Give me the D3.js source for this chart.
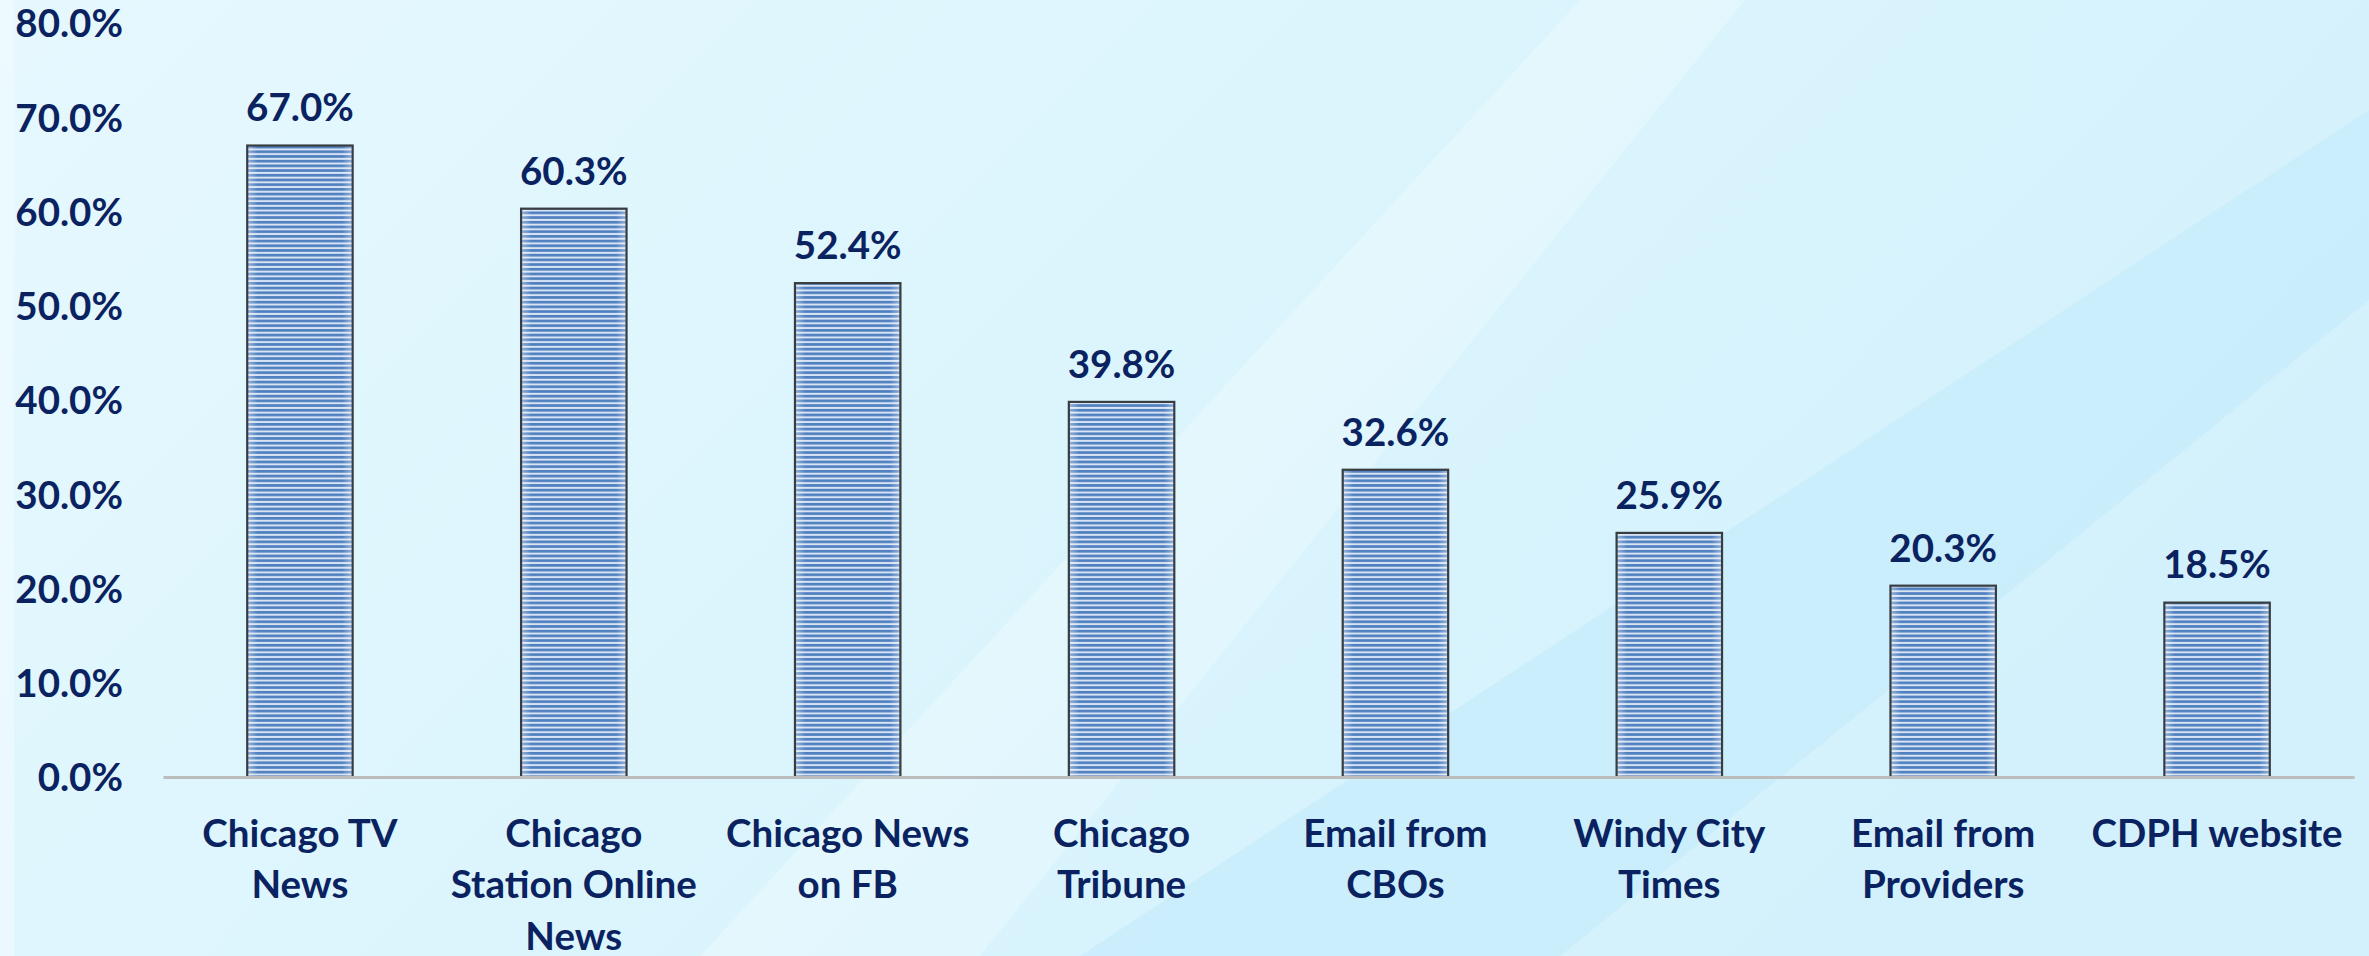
<!DOCTYPE html>
<html>
<head>
<meta charset="utf-8">
<script src="https://cdn.jsdelivr.net/npm/d3@7"></script>
<style>
  html, body { margin: 0; padding: 0; overflow: hidden; }
  #chart text { font-family: Lato, "Open Sans", sans-serif; font-weight: bold; fill: #0a2360; }
</style>
</head>
<body>
<div id="chart"></div>
<script>
// data
const categories = [
  "Chicago TV News",
  "Chicago Station Online News",
  "Chicago News on FB",
  "Chicago Tribune",
  "Email from CBOs",
  "Windy City Times",
  "Email from Providers",
  "CDPH website",
];
const labelLines = [
  ["Chicago TV", "News"],
  ["Chicago", "Station Online", "News"],
  ["Chicago News", "on FB"],
  ["Chicago", "Tribune"],
  ["Email from", "CBOs"],
  ["Windy City", "Times"],
  ["Email from", "Providers"],
  ["CDPH website"],
];
const values = [67.0, 60.3, 52.4, 39.8, 32.6, 25.9, 20.3, 18.5];
const yTicks = [0, 10, 20, 30, 40, 50, 60, 70, 80];

const width = 2369;
const height = 956;
const fontSize = "38.5px";

const svg = d3.select("#chart")
  .append("svg")
  .attr("width", width)
  .attr("height", height);

const defs = svg.append("defs");

// background
const bg = defs.append("linearGradient")
  .attr("id", "bg")
  .attr("x1", "0").attr("y1", "0").attr("x2", "1").attr("y2", "0.4");
bg.append("stop").attr("offset", "0").attr("stop-color", "#e6f8fe");
bg.append("stop").attr("offset", "0.5").attr("stop-color", "#dcf5fd");
bg.append("stop").attr("offset", "1").attr("stop-color", "#d3f1fc");

svg.append("rect")
  .attr("width", width)
  .attr("height", height)
  .attr("fill", "url(#bg)");

// soft diagonal bands
svg.append("path")
  .attr("d", "M1580,0 L1745,0 L980,956 L700,956 Z")
  .attr("fill", "#ffffff")
  .attr("opacity", 0.25);
svg.append("path")
  .attr("d", "M2369,110 L2369,300 L1560,956 L1080,956 Z")
  .attr("fill", "#bfeafb")
  .attr("opacity", 0.5);
svg.append("path")
  .attr("d", "M0,0 L14,0 L14,956 L0,956 Z")
  .attr("fill", "#f0fbff")
  .attr("opacity", 0.7);

// striped bar fill
const pat = defs.append("pattern")
  .attr("id", "stripes")
  .attr("patternUnits", "userSpaceOnUse")
  .attr("width", 10)
  .attr("height", 4.7);
pat.append("rect").attr("width", 10).attr("height", 4.7).attr("fill", "#d8e4f4");
pat.append("rect").attr("width", 10).attr("height", 2.7).attr("fill", "#4f80c0");

const edge = defs.append("linearGradient")
  .attr("id", "edge")
  .attr("x1", "0").attr("x2", "1");
edge.append("stop").attr("offset", "0").attr("stop-color", "#ffffff").attr("stop-opacity", 0.4);
edge.append("stop").attr("offset", "0.1").attr("stop-color", "#ffffff").attr("stop-opacity", 0);
edge.append("stop").attr("offset", "0.9").attr("stop-color", "#ffffff").attr("stop-opacity", 0);
edge.append("stop").attr("offset", "1").attr("stop-color", "#ffffff").attr("stop-opacity", 0.4);

const x = d3.scaleBand()
  .domain(categories)
  .range([163, 2354])
  .paddingInner(0.615)
  .paddingOuter(0.3075);

const y = d3.scaleLinear()
  .domain([0, 80])
  .range([777, 23]);

// y axis labels
const yAxis = svg.append("g")
  .attr("transform", "translate(123,0)")
  .call(d3.axisLeft(y).tickValues(yTicks).tickSize(0).tickPadding(0)
    .tickFormat((d) => d.toFixed(1) + "%"));
yAxis.select(".domain").remove();
yAxis.selectAll("text")
  .style("font-size", fontSize)
  .attr("dy", "0.36em");

// bars
svg.selectAll(".bar")
  .data(values)
  .enter()
  .append("rect")
  .attr("class", "bar")
  .attr("x", (d, i) => x(categories[i]))
  .attr("y", (d) => y(d))
  .attr("width", x.bandwidth())
  .attr("height", (d) => y(0) - y(d))
  .attr("fill", "url(#stripes)");

svg.selectAll(".bar-edge")
  .data(values)
  .enter()
  .append("rect")
  .attr("class", "bar-edge")
  .attr("x", (d, i) => x(categories[i]))
  .attr("y", (d) => y(d))
  .attr("width", x.bandwidth())
  .attr("height", (d) => y(0) - y(d))
  .attr("fill", "url(#edge)")
  .attr("stroke", "#383d42")
  .attr("stroke-width", 2.2);

// x axis line
const xAxis = svg.append("g")
  .attr("transform", `translate(0,${y(0)})`)
  .call(d3.axisBottom(x).tickSize(0).tickFormat(""));
xAxis.select(".domain")
  .attr("stroke", "#bcbcbc")
  .attr("stroke-width", 3);

// category labels
const catLabels = svg.selectAll(".cat")
  .data(labelLines)
  .enter()
  .append("text")
  .attr("class", "cat")
  .attr("text-anchor", "middle")
  .attr("transform", (d, i) => `translate(${x(categories[i]) + x.bandwidth() / 2},833)`)
  .style("font-size", fontSize);

catLabels.selectAll("tspan")
  .data((d) => d)
  .enter()
  .append("tspan")
  .attr("x", 0)
  .attr("y", (d, i) => i * 51.5)
  .attr("dy", "0.36em")
  .text((d) => d);

// value labels
svg.selectAll(".val")
  .data(values)
  .enter()
  .append("text")
  .attr("class", "val")
  .attr("text-anchor", "middle")
  .attr("x", (d, i) => x(categories[i]) + x.bandwidth() / 2)
  .attr("y", (d) => y(d) - 38)
  .attr("dy", "0.36em")
  .style("font-size", fontSize)
  .text((d) => d.toFixed(1) + "%");
</script>
</body>
</html>
